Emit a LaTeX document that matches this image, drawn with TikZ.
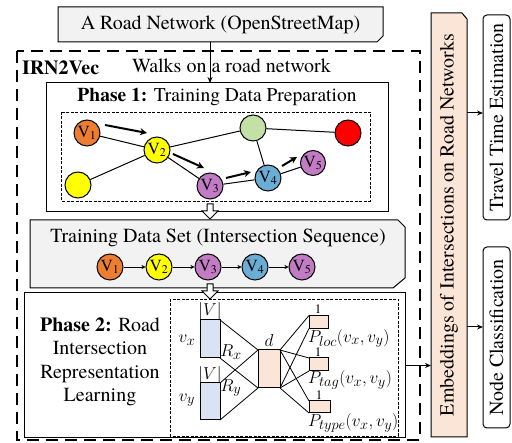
\documentclass[tikz,border=0pt]{standalone}
\usepackage{fontspec}
\setmainfont{texgyretermes}[Extension=.otf, UprightFont=*-regular, BoldFont=*-bold, ItalicFont=*-italic, BoldItalicFont=*-bolditalic]
\usetikzlibrary{arrows.meta,calc}
\definecolor{cOr}{HTML}{ED7D31}
\definecolor{cYe}{HTML}{FFFF00}
\definecolor{cPu}{HTML}{C27BC4}
\definecolor{cBl}{HTML}{6AAED6}
\definecolor{cGr}{HTML}{C3E0A6}
\definecolor{cRe}{HTML}{FF0000}
\definecolor{cGray}{HTML}{F2F2F2}
\definecolor{cLB}{HTML}{DAE3F3}
\definecolor{cPe}{HTML}{FBE5D6}
\begin{document}
\begin{tikzpicture}[x=1pt,y=-1pt,
  txt/.style={font=\fontsize{20}{24}\selectfont, inner sep=0pt, outer sep=0pt},
  boxline/.style={line width=1pt},
  ghost/.style={inner sep=0pt, outer sep=0pt},
  vnode/.style={circle, draw, line width=1pt, minimum size=26pt, inner sep=0pt, font=\fontsize{17}{17}\selectfont},
  edge/.style={line width=1pt},
  walk/.style={line width=2pt, -{Stealth[length=7pt,width=7pt]}},
  seqarr/.style={line width=0.9pt, -{Stealth[length=4pt,width=4pt]}},
  arr/.style={line width=1pt, -{Stealth[length=6pt,width=5pt]}},
  outerdash/.style={line width=1.8pt, dash pattern=on 12pt off 7pt},
  innerdash/.style={line width=0.8pt, dash pattern=on 3pt off 1.5pt},
  hollow/.style={line width=1pt, fill=white},
  nnbox/.style={draw, line width=1pt, inner sep=0pt, outer sep=0pt},
  mlab/.style={inner sep=0pt, font=\fontsize{19}{19}\selectfont},
  onelab/.style={inner sep=0pt, font=\fontsize{13}{13}\selectfont},
  conn/.style={line width=0.8pt}
]
\useasboundingbox (0,0) rectangle (512,443);

% top box
\draw[boxline, fill=cGray] (58,7) -- (383,7) -- (383,36) -- (377,42) -- (58,42) -- cycle;
\node[ghost, minimum width=325pt, minimum height=35pt] (osm) at (220.5,24.5) {};
\node[txt] (osmtxt) at (osm.center) {A Road Network (OpenStreetMap)};

% outer dashed IRN2Vec box
\draw[outerdash] (17,51) rectangle (420,440);
\node[txt, anchor=west, font=\fontsize{20}{24}\selectfont\bfseries] (irn) at (22,68) {IRN2Vec};
\node[txt, anchor=west] (walks) at (132,66) {Walks on a road network};

% Phase 1
\node[draw, boxline, fill=white, ghost, minimum width=342pt, minimum height=129pt] (p1) at (217,147.5) {};
\coordinate (ax) at (210,0);
\draw[arr] (osm.south -| ax) -- (p1.north -| ax);
\node[txt, font=\fontsize{19.5}{24}\selectfont] (p1t) at (217,97) {\textbf{Phase 1:} Training Data Preparation};
\draw[innerdash] (61,112) rectangle (370,201);

\node[vnode, fill=cOr] (V1) at (87,133) {V\textsubscript{1}};
\node[vnode, fill=cYe] (V2) at (157,150) {V\textsubscript{2}};
\node[vnode, fill=cYe] (Y0) at (78,185) {};
\node[vnode, fill=cPu] (V3) at (210,186) {V\textsubscript{3}};
\node[vnode, fill=cGr] (G0) at (253,128) {};
\node[vnode, fill=cRe] (R0) at (348,133) {};
\node[vnode, fill=cBl] (V4) at (268,178) {V\textsubscript{4}};
\node[vnode, fill=cPu, minimum size=25pt] (V5) at (313,163) {V\textsubscript{5}};

\draw[edge] (V1) -- (V2);
\draw[edge] (V2) -- (G0);
\draw[edge] (G0) -- (R0);
\draw[edge] (Y0) -- (V2);
\draw[edge] (V2) -- (V3);
\draw[edge] (V3) -- (V4);
\draw[edge] (V4) -- (G0);
\draw[edge] (V4) -- (V5);

\coordinate (w1a) at (105,125); \coordinate (w1b) at (147,133);
\coordinate (w2a) at (173,154); \coordinate (w2b) at (204,168);
\coordinate (w3a) at (226,178); \coordinate (w3b) at (251,172);
\coordinate (w4a) at (282,166); \coordinate (w4b) at (297,157);
\draw[walk] (w1a) -- (w1b);
\draw[walk] (w2a) -- (w2b);
\draw[walk] (w3a) -- (w3b);
\draw[walk] (w4a) -- (w4b);

% Training data set
\draw[boxline, fill=cGray] (30,220) -- (398,220) -- (405,227) -- (405,278) -- (393,288) -- (30,288) -- cycle;
\node[ghost, minimum width=375pt, minimum height=68pt] (ts) at (217.5,254) {};
\node[txt] (tstxt) at (218,238) {Training Data Set (Intersection Sequence)};
\node[vnode, fill=cOr] (s1) at (110,267) {V\textsubscript{1}};
\node[vnode, fill=cYe] (s2) at (159,267) {V\textsubscript{2}};
\node[vnode, fill=cPu] (s3) at (208,267) {V\textsubscript{3}};
\node[vnode, fill=cBl] (s4) at (255,267) {V\textsubscript{4}};
\node[vnode, fill=cPu] (s5) at (302,267) {V\textsubscript{5}};
\draw[seqarr] (s1) -- (s2);
\draw[seqarr] (s2) -- (s3);
\draw[seqarr] (s3) -- (s4);
\draw[seqarr] (s4) -- (s5);

% hollow arrow phase1 -> training
\draw[hollow] (207,204) -- (207,211) -- (202,211) -- (210,219) -- (218,211) -- (213,211) -- (213,204) -- cycle;

% Phase 2
\node[draw, boxline, fill=white, ghost, minimum width=381pt, minimum height=145pt] (p2) at (214.5,365.5) {};
\draw[hollow] (207,284) -- (207,291) -- (202,291) -- (210,299) -- (218,291) -- (213,291) -- (213,284) -- cycle;
\draw[innerdash] (170,299) rectangle (398,436);
\node[txt, align=center, font=\fontsize{20}{23.5}\selectfont] (p2t) at (100,362) {\textbf{Phase 2:} Road\\Intersection\\Representation\\Learning};

% neural net
\node[nnbox, fill=cLB, minimum width=20pt, minimum height=38pt] (vx) at (210,339) {};
\node[nnbox, fill=cLB, minimum width=20pt, minimum height=37pt] (vy) at (210,401.5) {};
\node[nnbox, fill=cPe, minimum width=22pt, minimum height=38pt] (dd) at (269,369) {};
\node[nnbox, fill=cPe, minimum width=19pt, minimum height=13pt] (ploc) at (318.5,322) {};
\node[nnbox, fill=cPe, minimum width=19pt, minimum height=13pt] (ptag) at (318.5,364.5) {};
\node[nnbox, fill=cPe, minimum width=21pt, minimum height=12pt] (ptype) at (319.5,407) {};

\draw[conn] (vx.north east) -- (dd.north west);
\draw[conn] (vx.south east) -- (dd.south west);
\draw[conn] (vy.north east) -- (dd.north west);
\draw[conn] (vy.south east) -- (dd.south west);
\draw[conn] (dd.north east) -- (ploc.north west);
\draw[conn] (dd.south east) -- (ploc.south west);
\draw[conn] (dd.north east) -- (ptag.north west);
\draw[conn] (dd.south east) -- (ptag.south west);
\draw[conn] (dd.north east) -- (ptype.north west);
\draw[conn] (dd.south east) -- (ptype.south west);

\node[mlab] (lV1) at (210,311.5) {$|V|$};
\node[mlab] (lV2) at (210,375) {$|V|$};
\node[mlab] (lvx) at (187,340) {$v_x$};
\node[mlab] (lvy) at (187,400) {$v_y$};
\node[mlab] (lRx) at (231,352) {$R_x$};
\node[mlab] (lRy) at (231,388) {$R_y$};
\node[mlab] (ld) at (269,341) {$d$};
\node[onelab] (l1a) at (318,309) {1};
\node[onelab] (l1b) at (318,352.5) {1};
\node[onelab] (l1c) at (319,395.5) {1};
\node[mlab, anchor=west] (lploc) at (308,338.5) {$P_{loc}(v_x,v_y)$};
\node[mlab, anchor=west] (lptag) at (308,380) {$P_{tag}(v_x,v_y)$};
\node[mlab, anchor=west] (lptype) at (308,423) {$P_{type}(v_x,v_y)$};

% Embedding box
\draw[boxline, fill=cPe] (431,13) -- (462,13) -- (467,19) -- (467,437) -- (431,437) -- cycle;
\node[ghost, minimum width=36pt, minimum height=424pt] (emb) at (449,225) {};
\node[txt, rotate=90] (embtxt) at (emb.center) {Embeddings of Intersections on Road Networks};

\draw[arr] (p2.east) -- (p2.east -| emb.west);

% task boxes
\node[draw, boxline, ghost, rounded corners=4pt, minimum width=27pt, minimum height=205pt] (tt) at (496.5,117.5) {};
\node[txt, rotate=90] (tttxt) at (tt.center) {Travel Time Estimation};
\node[draw, boxline, ghost, rounded corners=4pt, minimum width=27pt, minimum height=181pt] (nc) at (496.5,337.5) {};
\node[txt, rotate=90] (nctxt) at (nc.center) {Node Classification};

\coordinate (e1) at (467,113);
\coordinate (e2) at (467,327);
\draw[arr] (e1) -- (e1 -| tt.west);
\draw[arr] (e2) -- (e2 -| nc.west);
\end{tikzpicture}
\end{document}
